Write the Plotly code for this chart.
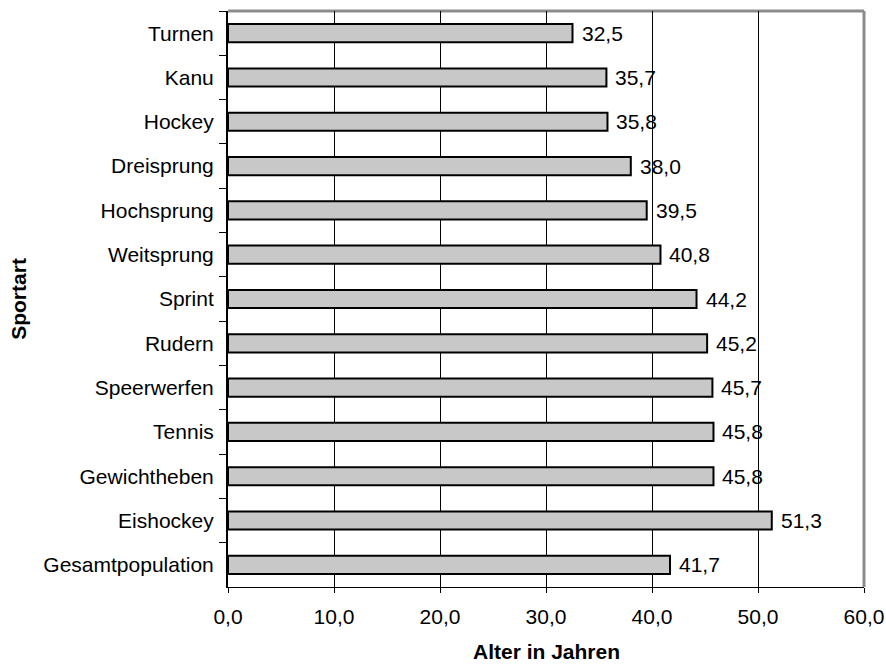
import plotly.graph_objects as go

# Sportarten (von oben nach unten) und Durchschnittsalter in Jahren
sportarten = [
    "Turnen", "Kanu", "Hockey", "Dreisprung", "Hochsprung", "Weitsprung",
    "Sprint", "Rudern", "Speerwerfen", "Tennis", "Gewichtheben",
    "Eishockey", "Gesamtpopulation",
]
alter = [32.5, 35.7, 35.8, 38.0, 39.5, 40.8, 44.2, 45.2, 45.7, 45.8, 45.8, 51.3, 41.7]
x_ticks = [0, 10, 20, 30, 40, 50, 60]

FONT = "Liberation Sans, Arial, sans-serif"
FS = 21

fig = go.Figure()
fig.add_trace(go.Bar(
    x=alter,
    y=sportarten,
    orientation="h",
    width=0.41,
    marker=dict(color="#c8c8c8", line=dict(color="black", width=2)),
    hoverinfo="x+y",
))

# Wertebeschriftungen rechts neben den Balken (Dezimalkomma)
annotations = [
    dict(x=v, y=s, xref="x", yref="y", text=f"{v:.1f}".replace(".", ","),
         showarrow=False, xanchor="left", yanchor="middle", xshift=7,
         font=dict(family=FONT, size=FS, color="black"))
    for s, v in zip(sportarten, alter)
]
annotations.append(dict(
    x=0.5, y=-0.112, xref="paper", yref="paper", text="<b>Alter in Jahren</b>",
    showarrow=False, xanchor="center", yanchor="middle",
    font=dict(family=FONT, size=FS, color="black"),
))
annotations.append(dict(
    x=-0.3305, y=0.5, xref="paper", yref="paper", text="<b>Sportart</b>",
    textangle=-90, showarrow=False, xanchor="center", yanchor="middle",
    font=dict(family=FONT, size=FS, color="black"),
))

# Grauer Rahmen oben und rechts
shapes = [
    dict(type="line", xref="paper", yref="paper", x0=0, x1=1, y0=1, y1=1,
         line=dict(color="#8c8c8c", width=3), layer="below"),
    dict(type="line", xref="paper", yref="paper", x0=1, x1=1, y0=0, y1=1,
         line=dict(color="#8c8c8c", width=3), layer="below"),
]

fig.update_layout(
    width=886, height=664,
    margin=dict(l=228, r=22, t=11, b=77, autoexpand=False),
    paper_bgcolor="white", plot_bgcolor="white",
    separators=",.",
    showlegend=False,
    font=dict(family=FONT, size=FS, color="black"),
    annotations=annotations,
    shapes=shapes,
    xaxis=dict(
        range=[0, 60], tickvals=x_ticks, tickformat=".1f", automargin=False,
        showgrid=True, gridcolor="black", gridwidth=1,
        showline=True, linecolor="black", linewidth=1,
        ticks="outside", ticklen=5, tickcolor="black", tickwidth=1,
        zeroline=False, ticklabelstandoff=6,
    ),
    yaxis=dict(
        type="category", categoryorder="array", categoryarray=sportarten,
        autorange="reversed", showgrid=False, automargin=False,
        showline=True, linecolor="black", linewidth=2,
        ticks="outside", tickson="boundaries", ticklen=7,
        tickcolor="black", tickwidth=1, ticklabelstandoff=8,
    ),
)

fig.write_html("out.html")
